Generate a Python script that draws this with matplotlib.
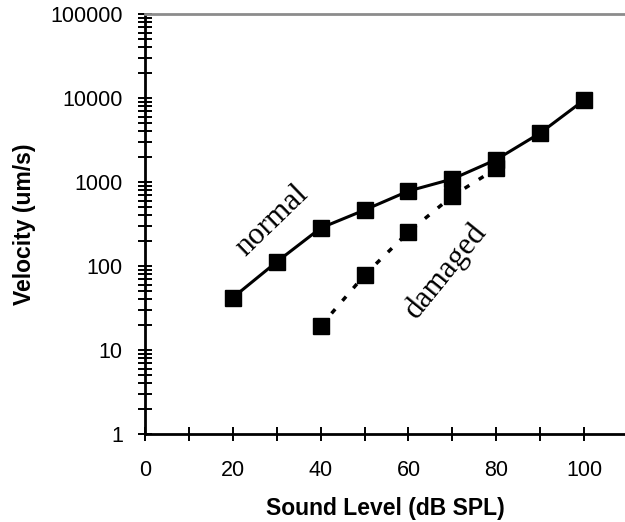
import numpy as np
import matplotlib
matplotlib.use('Agg')
import matplotlib.pyplot as plt
from matplotlib.ticker import MultipleLocator, LogLocator, NullFormatter

# data
levels_normal = [20, 30, 40, 50, 60, 70, 80, 90, 100]
vel_normal = [42, 112, 283, 464, 781, 1086, 1850, 3830, 9460]
levels_damaged = [40, 50, 60, 70, 80]
vel_damaged = [19.3, 78, 254, 681, 1450]
xticks = [0, 20, 40, 60, 80, 100]
yticks = [1, 10, 100, 1000, 10000, 100000]
ytick_labels = ['1', '10', '100', '1000', '10000', '100000']

plt.rcParams['font.family'] = ['Liberation Sans', 'DejaVu Sans']

fig = plt.figure(figsize=(6.25, 5.22), dpi=100)
ax = fig.add_axes([145/625, 1-434/522, 1-145/625, (434-14)/522])

ax.plot(levels_normal, vel_normal, color='black', lw=2.2, marker='s', ms=11,
        solid_joinstyle='miter')
ax.plot(levels_damaged, vel_damaged, color='black', lw=2.5, marker='s', ms=11,
        linestyle=(0, (1.6, 3.2)))

ax.set_yscale('log')
ax.set_xlim(0, 109.3)
ax.set_ylim(1, 100000)

ax.set_xticks(xticks)
ax.xaxis.set_minor_locator(MultipleLocator(10))
ax.set_yticks(yticks)
ax.set_yticklabels(ytick_labels)
ax.yaxis.set_minor_locator(LogLocator(base=10, subs=np.arange(2, 10)))
ax.yaxis.set_minor_formatter(NullFormatter())

ax.tick_params(axis='both', which='both', direction='inout', length=10,
               width=1.4, color='black', labelsize=15.5)
ax.tick_params(axis='x', which='major', pad=14)
ax.tick_params(axis='y', which='major', pad=11)

ax.spines['right'].set_visible(False)
ax.spines['top'].set_color('#8c8c8c')
ax.spines['top'].set_linewidth(2)
ax.spines['left'].set_linewidth(2)
ax.spines['bottom'].set_linewidth(2)

ax.set_xlabel('Sound Level (dB SPL)', fontsize=16.5, fontweight='bold', labelpad=11)
ax.set_ylabel('Velocity (um/s)', fontsize=16.5, fontweight='bold', labelpad=10)

ax.text(28.9, 343, 'normal', family=['Liberation Serif'], fontsize=22.5,
        rotation=44, ha='center', va='center')
ax.text(68.6, 87, 'damaged', family=['Liberation Serif'], fontsize=22.5,
        rotation=51, ha='center', va='center')

fig.savefig('out.png', dpi=100)
